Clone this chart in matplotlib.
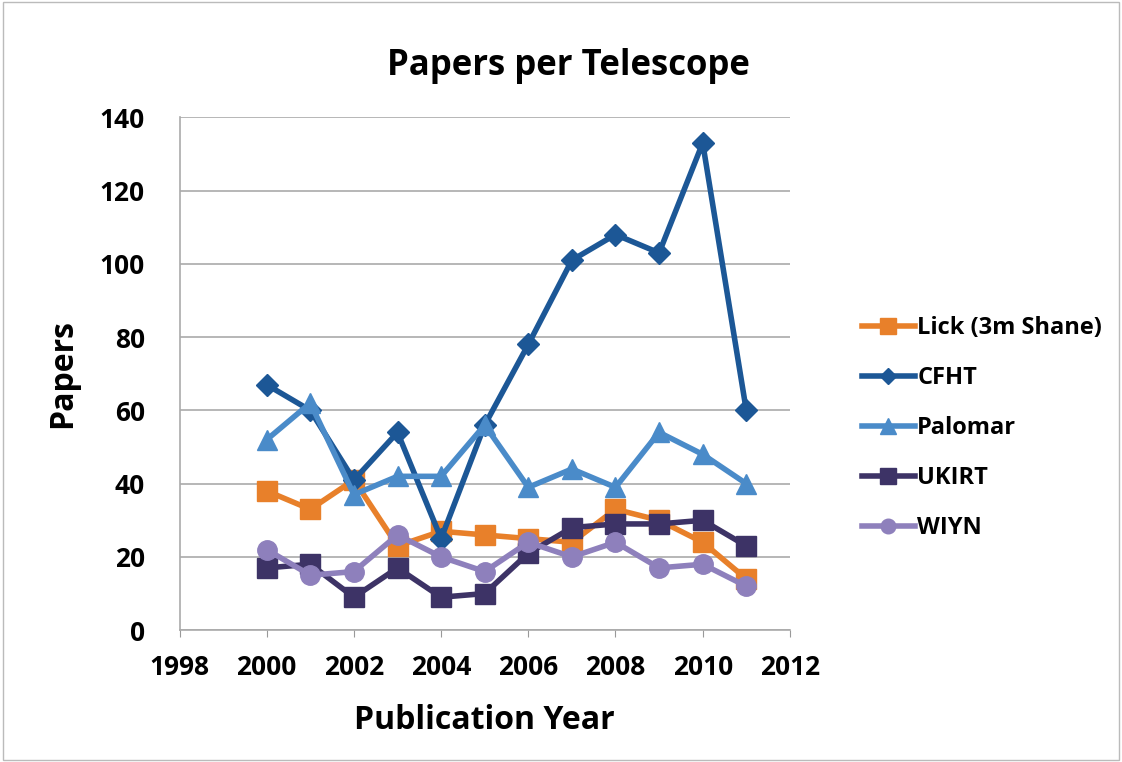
import numpy as np
import matplotlib.pyplot as plt

years = [2000, 2001, 2002, 2003, 2004, 2005, 2006, 2007, 2008, 2009, 2010, 2011]
lick = [38, 33, 41, 23, 27, 26, 25, 24, 33, 30, 24, 14]
cfht = [67, 60, 41, 54, 25, 56, 78, 101, 108, 103, 133, 60]
palomar = [52, 62, 37, 42, 42, 56, 39, 44, 39, 54, 48, 40]
ukirt = [17, 18, 9, 17, 9, 10, 21, 28, 29, 29, 30, 23]
wiyn = [22, 15, 16, 26, 20, 16, 24, 20, 24, 17, 18, 12]

plt.rcParams['font.family'] = ['Open Sans', 'DejaVu Sans']
plt.rcParams['font.weight'] = 'bold'

fig = plt.figure(figsize=(11.22, 7.62), dpi=100)
ax = fig.add_axes([0.16, 0.173, 0.544, 0.673])

series = [
    ("Lick (3m Shane)", lick, '#E8802A', 's', 15),
    ("CFHT", cfht, '#1C5796', 'D', 11),
    ("Palomar", palomar, '#4A8BC9', '^', 15),
    ("UKIRT", ukirt, '#3D3366', 's', 15),
    ("WIYN", wiyn, '#8E80BC', 'o', 14),
]
for name, vals, col, mk, ms in series:
    ax.plot(years, vals, color=col, marker=mk, markersize=ms, linewidth=4, label=name)

ax.set_xlim(1998, 2012)
ax.set_ylim(0, 140)
ax.set_xticks(np.arange(1998, 2013, 2))
ax.set_yticks(np.arange(0, 141, 20))
ax.tick_params(labelsize=19, length=5, color='#999999')
ax.tick_params(axis='x', pad=12)
ax.tick_params(axis='y', length=0, pad=25)
ax.yaxis.grid(True, color='#AAAAAA', linewidth=1.2)
ax.set_axisbelow(True)
for s in ['top', 'right']:
    ax.spines[s].set_visible(False)
for s in ['left', 'bottom']:
    ax.spines[s].set_color('#AAAAAA')
    ax.spines[s].set_linewidth(1.2)

fig.text(0.507, 0.914, "Papers per Telescope", fontsize=25, fontweight='bold',
         ha='center', va='center')
ax.set_xlabel("Publication Year", fontsize=23, fontweight='bold')
ax.set_ylabel("Papers", fontsize=23, fontweight='bold')
ax.xaxis.set_label_coords(0.5, -0.143)
ax.yaxis.set_label_coords(-0.164, 0.5)

leg = ax.legend(loc='center left', bbox_to_anchor=(1.083, 0.394), frameon=False,
                fontsize=17, handlelength=2.25, handletextpad=0.1, labelspacing=1.1,
                markerscale=0.75)

fig.patches.append(plt.Rectangle((0.003, 0.003), 0.994, 0.994, transform=fig.transFigure,
                                 fill=False, edgecolor='#BBBBBB', linewidth=1))

fig.savefig("out.png", dpi=100)
